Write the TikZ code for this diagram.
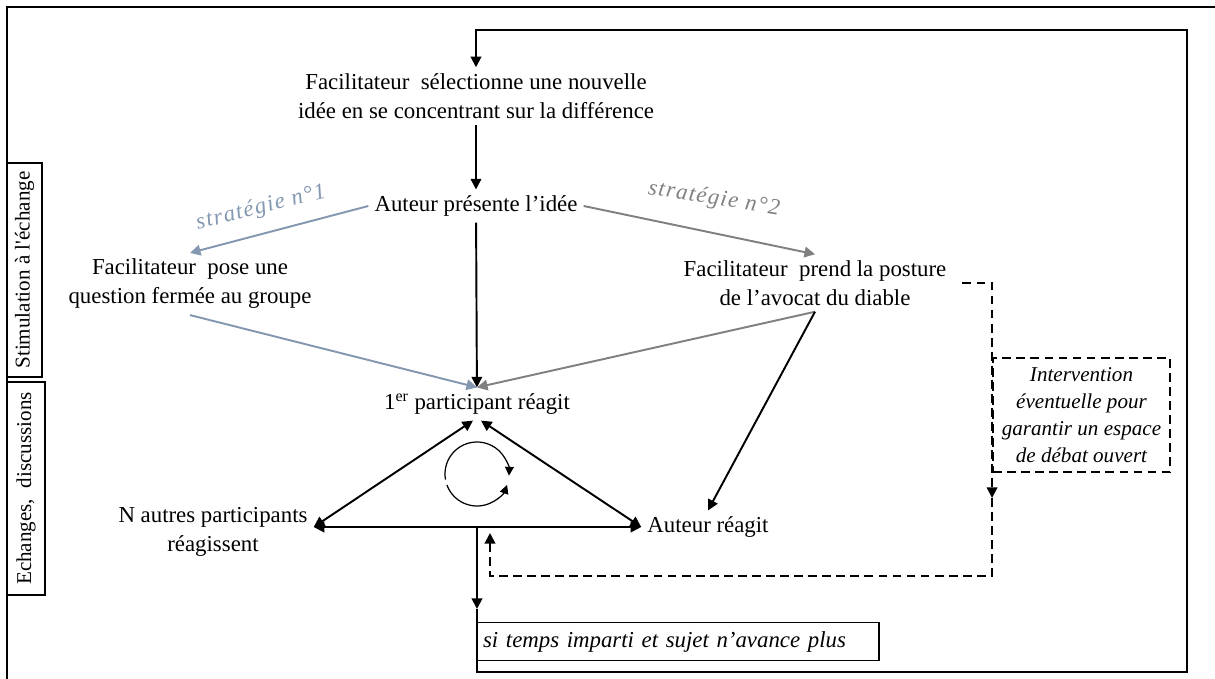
\documentclass[tikz,border=0pt]{standalone}
\usepackage{fontspec}
\setmainfont{Liberation Serif}
\definecolor{stratblue}{RGB}{132,151,176}
\definecolor{stratgray}{RGB}{128,128,128}
\usetikzlibrary{arrows.meta,calc}

\begin{document}
\begin{tikzpicture}[x=0.02cm, y=0.02cm, >={Triangle[length=6pt,width=6pt]},
  every node/.style={font=\fontsize{13}{16.5}\selectfont, align=center},
  link/.style={->, line width=1.1pt},
  both/.style={<->, line width=1.1pt},
  dashlink/.style={->, line width=1.1pt, dash pattern=on 5pt off 3pt},
  note/.style={font=\fontsize{12}{15.5}\selectfont\itshape}]
\useasboundingbox (0,0) rectangle (1215,-679);
% Frame
\draw[line width=1.1pt] (7,-679) -- (7,-7) -- (1215,-7);
% Phases
\node[draw, line width=0.8pt, rotate=90, minimum width=4.28cm, minimum height=0.7cm, inner sep=0pt, font=\fontsize{12}{14}\selectfont] (stim) at (24.5,-270) {Stimulation à l\textquotesingle échange};
\node[draw, line width=0.8pt, rotate=90, minimum width=4.26cm, minimum height=0.76cm, inner sep=0pt, font=\fontsize{12}{14}\selectfont] (exch) at (26,-488.5) {Echanges,\ \ discussions};
% Steps
\node (select) at (476,-96) {Facilitateur\ \ sélectionne une nouvelle\\idée en se concentrant sur la différence};
\node (author) at (476,-206) {Auteur présente l’idée};
\node (question) at (190,-284) {Facilitateur\ \ pose une\\question fermée au groupe};
\node (devil) at (815,-283) {Facilitateur\ \ prend la posture\\de l’avocat du diable};
\node (first) at (477,-404) {1\textsuperscript{er} participant réagit};
\node (others) at (213,-532) {N autres participants\\réagissent};
\node (authreact) at (708,-527) {Auteur réagit};
\node[note, draw, line width=1.1pt, dash pattern=on 5pt off 3pt, minimum width=3.54cm, minimum height=2.28cm] (interv) at (1081.5,-415) {Intervention\\éventuelle pour\\garantir un espace\\de débat ouvert};
\node[note, font=\fontsize{13}{16}\selectfont\itshape, draw, line width=0.8pt, anchor=north west, minimum width=8.02cm, minimum height=0.76cm, text width=7.8cm, align=left] (time) at (476.5,-622) {si temps imparti et sujet n’avance plus};
% Strategies
\node[note, font=\fontsize{13}{16}\selectfont\itshape\addfontfeature{LetterSpace=6}, rotate=14, text=stratblue] (strat1) at (261,-208) {stratégie n°1};
\node[note, font=\fontsize{13}{16}\selectfont\itshape\addfontfeature{LetterSpace=6}, rotate=-9, text=stratgray] (strat2) at (714,-199) {stratégie n°2};
% Arrows
\draw[link] (select) -- (author);
\draw[link] (author) -- (first);
\draw[link, stratblue] (author.west) -- (question.north);
\draw[link, stratblue] (question.south) -- (first.north);
\draw[link, stratgray] (author.east) -- (devil.north);
\draw[link, stratgray] (devil.south) -- (first.north);
\draw[link] (devil.south) -- (authreact.north);
% Exchange triangle
\draw[both] (others.east |- authreact.west) -- (authreact.west);
\draw[both] (others.east |- authreact.west) -- ([xshift=-0.08cm]first.south);
\draw[both] (authreact.west) -- ([xshift=0.08cm]first.south);
\coordinate (cyc) at (477,-474);
\draw[line width=0.7pt, -{Triangle[length=5pt,width=5pt]}] (cyc) ++(190:32) arc[start angle=190, end angle=-3, radius=32];
\draw[line width=0.7pt, -{Triangle[length=5pt,width=5pt]}] (cyc) ++(200:32) arc[start angle=200, end angle=340, radius=32];
% Loop back
\coordinate (stem) at (first.south |- authreact.west);
\coordinate (loopbl) at (stem |- 0,-672);
\coordinate (looptr) at (1187,-30);
\draw[link] (stem) -- ++(0,-82) coordinate (stemtip);
\draw[link] (stemtip) -- (loopbl) -| (looptr) -| (select.north);
% Intervention
\draw[dashlink] ([xshift=0.2cm]devil.east) -| ([yshift=-0.5cm]interv.south west);
\coordinate (dashret) at ([yshift=-2.06cm]interv.south west);
\draw[dashlink] ([yshift=-0.5cm]interv.south west) -- (dashret) -| ([xshift=0.26cm,yshift=-0.12cm]stem);
\end{tikzpicture}
\end{document}
